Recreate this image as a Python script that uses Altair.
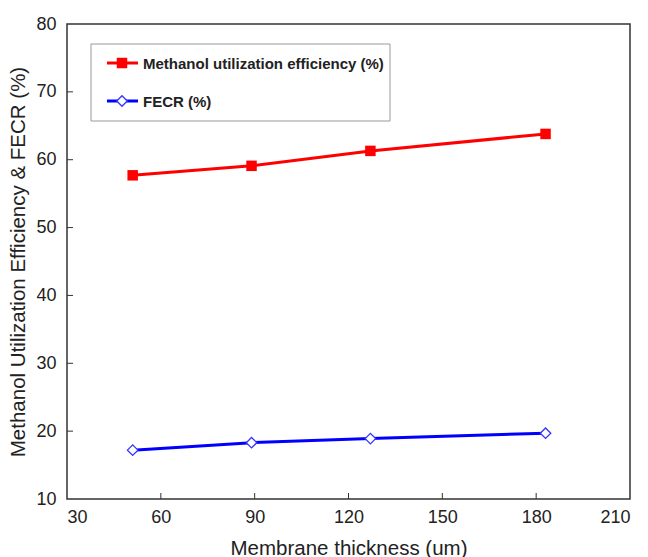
import altair as alt
import pandas as pd

thickness = [51, 89, 127, 183]
methanol_eff = [57.7, 59.1, 61.3, 63.8]
fecr = [17.2, 18.3, 18.9, 19.7]
series_names = ["Methanol utilization efficiency (%)", "FECR (%)"]
x_ticks = [30, 60, 90, 120, 150, 180, 210]
y_ticks = [10, 20, 30, 40, 50, 60, 70, 80]

df_m = pd.DataFrame({"x": thickness, "y": methanol_eff})
df_f = pd.DataFrame({"x": thickness, "y": fecr})

W, H = 563, 475
FONT = "Liberation Sans"

xs = alt.Scale(domain=[30, 210], nice=False)
ys = alt.Scale(domain=[10, 80], nice=False)

x_axis = alt.Axis(values=x_ticks, ticks=False, grid=False, domain=False,
                  labelFontSize=18, labelColor="#222", labelPadding=9, labelFont=FONT,
                  title="Membrane thickness (um)", titleFontSize=20.5, titleFontWeight="normal",
                  titleFont=FONT, titleColor="#222", titlePadding=12)
y_axis = alt.Axis(values=y_ticks, ticks=False, grid=False, domain=False,
                  labelFontSize=18, labelColor="#222", labelPadding=11, labelFont=FONT,
                  title="Methanol Utilization Efficiency & FECR (%)", titleFontSize=20.5,
                  titleFontWeight="normal", titleFont=FONT, titleColor="#222", titlePadding=7)

base_m = alt.Chart(df_m).encode(x=alt.X("x:Q", scale=xs, axis=x_axis),
                                y=alt.Y("y:Q", scale=ys, axis=y_axis))
line_m = base_m.mark_line(color="#ff0000", strokeWidth=3)
pts_m = base_m.mark_point(shape="square", filled=True, color="#ff0000", size=110, opacity=1)

base_f = alt.Chart(df_f).encode(x=alt.X("x:Q", scale=xs), y=alt.Y("y:Q", scale=ys))
line_f = base_f.mark_line(color="#0000ff", strokeWidth=3)
pts_f = base_f.mark_point(shape="diamond", filled=True, fill="white", stroke="#3333ff",
                          strokeWidth=1.3, size=110, opacity=1)

# inward ticks
xt = alt.Chart(pd.DataFrame({"v": x_ticks[1:-1]})).mark_rule(color="#333").encode(
    x=alt.X("v:Q", scale=xs), y=alt.value(H), y2=alt.value(H - 6))
yt = alt.Chart(pd.DataFrame({"v": y_ticks[1:-1]})).mark_rule(color="#333").encode(
    y=alt.Y("v:Q", scale=ys), x=alt.value(0), x2=alt.value(6))

# legend
legend_box = alt.Chart(pd.DataFrame({"a": [0]})).mark_rect(
    fill="white", stroke="#999", strokeWidth=1).encode(
    x=alt.value(24), x2=alt.value(323), y=alt.value(20), y2=alt.value(97))
leg_df = pd.DataFrame({"name": series_names, "row": [0, 1]})
leg_line_m = alt.Chart(leg_df.iloc[[0]]).mark_rule(color="#ff0000", strokeWidth=3).encode(
    x=alt.value(40), x2=alt.value(71), y=alt.value(39))
leg_pt_m = alt.Chart(leg_df.iloc[[0]]).mark_point(shape="square", filled=True, color="#ff0000",
                                                  size=110, opacity=1).encode(
    x=alt.value(55), y=alt.value(39))
leg_txt_m = alt.Chart(leg_df.iloc[[0]]).mark_text(align="left", baseline="middle", fontSize=15,
                                                  fontWeight="bold", font=FONT, color="#222").encode(
    x=alt.value(76), y=alt.value(40), text="name:N")
leg_line_f = alt.Chart(leg_df.iloc[[1]]).mark_rule(color="#0000ff", strokeWidth=3).encode(
    x=alt.value(40), x2=alt.value(71), y=alt.value(77))
leg_pt_f = alt.Chart(leg_df.iloc[[1]]).mark_point(shape="diamond", filled=True, fill="white",
                                                  stroke="#3333ff", strokeWidth=1.3, size=110,
                                                  opacity=1).encode(
    x=alt.value(55), y=alt.value(77))
leg_txt_f = alt.Chart(leg_df.iloc[[1]]).mark_text(align="left", baseline="middle", fontSize=15,
                                                  fontWeight="bold", font=FONT, color="#222").encode(
    x=alt.value(76), y=alt.value(78), text="name:N")

chart = alt.layer(
    line_m, line_f, pts_m, pts_f, xt, yt,
    legend_box, leg_line_m, leg_pt_m, leg_txt_m, leg_line_f, leg_pt_f, leg_txt_f
).properties(
    width=W, height=H,
    autosize=alt.AutoSizeParams(type="none"),
    padding={"left": 67, "top": 24, "right": 18, "bottom": 58},
    background="white",
).configure_view(stroke="#333", strokeWidth=1.5)

chart.save("out.html", embed_options={"renderer": "svg", "actions": False})
